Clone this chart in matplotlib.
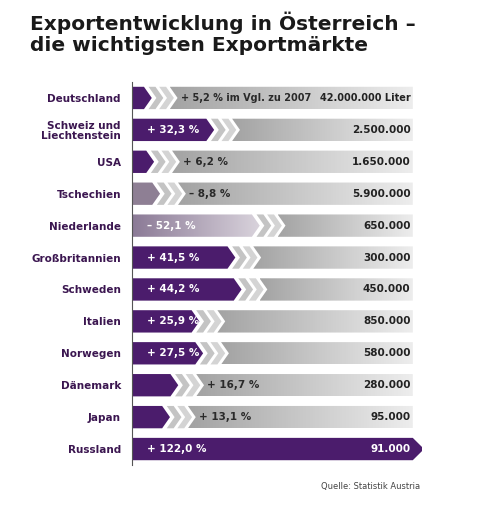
import numpy as np
import matplotlib.pyplot as plt
from matplotlib.patches import Polygon

countries = ["Deutschland", "Schweiz und\nLiechtenstein", "USA", "Tschechien", "Niederlande",
             "Großbritannien", "Schweden", "Italien", "Norwegen", "Dänemark", "Japan", "Russland"]
change = [5.2, 32.3, 6.2, -8.8, -52.1, 41.5, 44.2, 25.9, 27.5, 16.7, 13.1, 122.0]
change_labels = ["+ 5,2 % im Vgl. zu 2007", "+ 32,3 %", "+ 6,2 %", "– 8,8 %", "– 52,1 %", "+ 41,5 %",
                 "+ 44,2 %", "+ 25,9 %", "+ 27,5 %", "+ 16,7 %", "+ 13,1 %", "+ 122,0 %"]
volumes = ["42.000.000 Liter", "2.500.000", "1.650.000", "5.900.000", "650.000", "300.000",
           "450.000", "850.000", "580.000", "280.000", "95.000", "91.000"]

PURPLE = "#4b1c6c"
LABEL = "#3b1650"
XMAX = 122
TIP = 3.4
H = 0.7

fig = plt.figure(figsize=(4.94, 5.07), dpi=100)
ax = fig.add_axes([132 / 494, 1 - 465 / 507, 290 / 494, (465 - 82) / 507])
ax.set_xlim(0, XMAX + 4)
ax.set_ylim(len(countries) - 0.5, -0.5)


def grad_poly(verts, c1, c2):
    poly = Polygon(verts, closed=True, facecolor="none", edgecolor="none")
    ax.add_patch(poly)
    xs = [v[0] for v in verts]
    ys = [v[1] for v in verts]
    cmap = plt.matplotlib.colors.LinearSegmentedColormap.from_list("g", [c1, c2])
    im = ax.imshow(np.linspace(0, 1, 200).reshape(1, -1), cmap=cmap, aspect="auto",
                   extent=[min(xs), max(xs), max(ys), min(ys)], zorder=1)
    im.set_clip_path(poly)


def chevron(x, y, w, color):
    t, b = y - H / 2, y + H / 2
    ax.add_patch(Polygon([(x, t), (x + w, t), (x + w + TIP, y), (x + w, b), (x, b), (x + TIP, y)],
                         closed=True, facecolor=color, edgecolor="none", zorder=2))


for i, p in enumerate(change):
    L = abs(p)
    t, b = i - H / 2, i + H / 2
    tip = TIP if L < XMAX else TIP + 1.5
    bar = [(0, t), (L, t), (L + tip, i), (L, b), (0, b)]
    if p >= 0:
        ax.add_patch(Polygon(bar, closed=True, facecolor=PURPLE, edgecolor="none", zorder=2))
    elif L > 20:
        grad_poly(bar, "#8b7a96", "#d9d3dc")
    else:
        ax.add_patch(Polygon(bar, closed=True, facecolor="#8e7f94", edgecolor="none", zorder=2))
    if L < XMAX:
        x = L + 2.0
        chevron(x, i, 3.0, "#c4c4c4")
        x += 3.0 + 1.6
        chevron(x, i, 3.0, "#d4d4d4")
        x += 3.0 + 1.6
        grad_poly([(x, t), (XMAX, t), (XMAX, b), (x, b), (x + TIP, i)], "#a3a3a3", "#ededed")
        gx = x + TIP + 1.5
    inside = p > 20 or p < -20
    if inside:
        ax.text(6.5, i, change_labels[i], color="white", fontsize=7.5, fontweight="bold",
                va="center", ha="left", zorder=5)
    else:
        ax.text(gx, i, change_labels[i], color="#2a2a2a", fontsize=7 if i == 0 else 7.5,
                fontweight="bold", va="center", ha="left", zorder=5)
    ax.text(XMAX - 1, i, volumes[i], color="white" if L >= XMAX else "#222222",
            fontsize=7 if i == 0 else 7.5, fontweight="bold", va="center", ha="right", zorder=5)

ax.set_yticks(range(len(countries)))
ax.set_yticklabels(countries, fontsize=7.5, fontweight="bold", color=LABEL, linespacing=1.0)
ax.tick_params(axis="y", length=0, pad=8)
ax.set_xticks([])
for s in ["top", "right", "bottom"]:
    ax.spines[s].set_visible(False)
ax.spines["left"].set_color("#555555")
ax.spines["left"].set_linewidth(0.8)

fig.text(30 / 494, 1 - 33 / 507, "Exportentwicklung in Österreich –\ndie wichtigsten Exportmärkte",
         fontsize=14.5, fontweight="bold", color="#1a1a1a", va="center", ha="left", linespacing=1.15)
fig.text(420 / 494, 1 - 487 / 507, "Quelle: Statistik Austria", fontsize=6, color="#444444",
         ha="right", va="center")

fig.savefig("out.png", dpi=100)
